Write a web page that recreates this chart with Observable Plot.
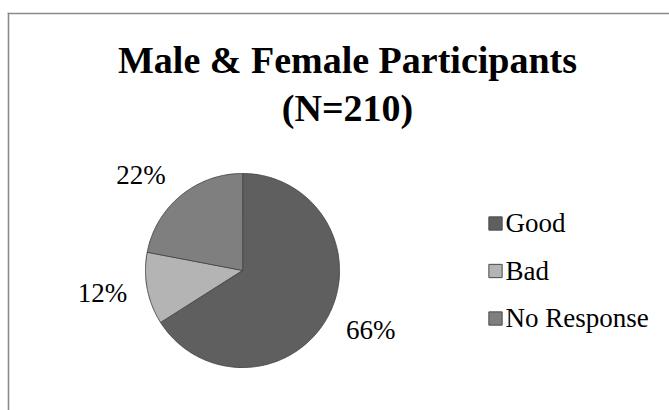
<!DOCTYPE html>
<html><head><meta charset="utf-8">
<script src="https://cdn.jsdelivr.net/npm/d3@7"></script>
<script src="https://cdn.jsdelivr.net/npm/@observablehq/plot@0.6"></script>
<style>body{margin:0;background:#fff}</style>
</head><body><div id="chart"></div>
<script>
const categories = ["Good", "Bad", "No Response"];
const percents = [66, 12, 22];
const colors = ["#5f5f5f", "#b4b4b4", "#7f7f7f"];
const titleLines = ["Male & Female Participants", "(N=210)"];

const W = 669, H = 410;
const cx = 242, cy = 270, R = 97;
const arcs = d3.pie().sort(null).value(d => d)(percents);

const slicePts = [];
arcs.forEach((a, i) => {
  slicePts.push({cat: categories[i], x: cx, y: cy});
  const n = Math.max(2, Math.ceil((a.endAngle - a.startAngle) / 0.01));
  for (let k = 0; k <= n; k++) {
    const t = a.startAngle + (a.endAngle - a.startAngle) * k / n;
    slicePts.push({cat: categories[i], x: cx + R * Math.sin(t), y: cy - R * Math.cos(t)});
  }
});

const lw = 60, lh = 24, gap = 15;
const labels = arcs.map((a, i) => {
  const m = (a.startAngle + a.endAngle) / 2;
  const s = Math.sin(m), c = Math.cos(m);
  return {
    text: percents[i] + "%",
    x: cx + (R + gap) * s + Math.sign(s) * lw / 2,
    y: cy - (R + gap) * c - c * lh / 2
  };
});

const legendX = 495, legendY0 = 223, legendStep = 47.5;
const legend = categories.map((c, i) => ({cat: c, x: legendX, y: legendY0 + i * legendStep}));

const font = "Liberation Serif";
const chart = Plot.plot({
  width: W, height: H,
  marginTop: 13, marginLeft: 8, marginRight: 0, marginBottom: 0,
  style: {fontFamily: font, background: "#fff"},
  x: {domain: [8, W], axis: null},
  y: {domain: [13, H], reverse: true, axis: null},
  color: {domain: categories, range: colors},
  marks: [
    Plot.frame({anchor: "top", stroke: "#8a8a8a", strokeWidth: 1.6}),
    Plot.frame({anchor: "left", stroke: "#8a8a8a", strokeWidth: 1.6}),
    Plot.text([titleLines.join("\n")], {
      x: () => 347, y: () => 81, text: d => d, fontSize: 38, fontWeight: "bold",
      lineHeight: 1.26, fill: "#000", lineAnchor: "middle"
    }),
    Plot.line(slicePts, {x: "x", y: "y", z: "cat", fill: "cat", stroke: "#4a4a4a", strokeWidth: 1, curve: "linear-closed"}),
    Plot.text(labels, {x: "x", y: "y", text: "text", fontSize: 27, fill: "#000", lineAnchor: "middle"}),
    Plot.dot(legend, {x: "x", y: "y", symbol: "square", r: 7.5, fill: "cat", stroke: "#4a4a4a", strokeWidth: 1}),
    Plot.text(legend, {x: "x", y: "y", text: "cat", dx: 10, textAnchor: "start", fontSize: 27, fill: "#000", lineAnchor: "middle"})
  ]
});
document.getElementById("chart").append(chart);
</script>
</body></html>
